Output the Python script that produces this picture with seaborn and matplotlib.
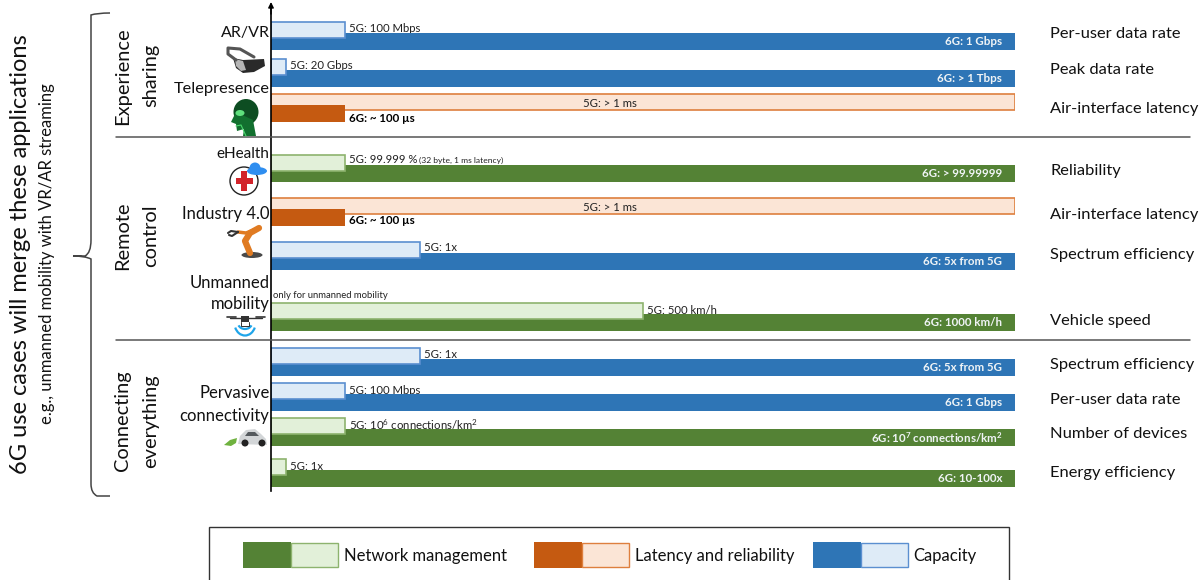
import matplotlib
matplotlib.use("Agg")
import matplotlib.pyplot as plt
import seaborn as sns
from matplotlib.patches import Rectangle, Circle, Ellipse, Polygon, PathPatch, Arc
from matplotlib.path import Path

sns.set_theme(style="white")
plt.rcParams['font.family'] = ['Lato', 'DejaVu Sans']
plt.rcParams['mathtext.fontset'] = 'custom'
plt.rcParams['mathtext.rm'] = 'Lato'
plt.rcParams['mathtext.bf'] = 'Lato:bold'
plt.rcParams['mathtext.default'] = 'regular'

W, H = 1203, 580

#%% data
metrics = ["Per-user data rate", "Peak data rate", "Air-interface latency",
           "Reliability", "Air-interface latency", "Spectrum efficiency",
           "Vehicle speed", "Spectrum efficiency", "Per-user data rate",
           "Number of devices", "Energy efficiency"]
families = ["cap", "cap", "lat", "net", "lat", "cap", "net", "cap", "cap", "net", "net"]
# bar lengths, relative to the longest bar
val_5g = [10, 2, 100, 10, 100, 20, 50, 20, 10, 10, 2]
val_6g = [100, 100, 10, 100, 10, 100, 100, 100, 100, 100, 100]
label_5g = ["5G: 100 Mbps", "5G: 20 Gbps", "5G: > 1 ms", "5G: 99.999 %", "5G: > 1 ms",
            "5G: 1x", "5G: 500 km/h", "5G: 1x", "5G: 100 Mbps",
            "5G: 10$^{6}$ connections/km$^{2}$", "5G: 1x"]
label_6g = ["6G: 1 Gbps", "6G: > 1 Tbps", "6G: ~ 100 µs", "6G: > 99.99999", "6G: ~ 100 µs",
            "6G: 5x from 5G", "6G: 1000 km/h", "6G: 5x from 5G", "6G: 1 Gbps",
            "6G: 10$^{7}$ connections/km$^{2}$", "6G: 10-100x"]
legend_names = ["Network management", "Latency and reliability", "Capacity"]

#%% layout and styles (pixels of the picture)
y_5g = [30, 67, 102, 163, 206, 250, 311, 356, 391, 426, 467]
y_6g = [41.5, 78.5, 113.5, 173.5, 217.5, 261.5, 322.5, 367.5, 402.5, 437.5, 478.5]
y_lab5 = [28.5, 65.5, 103.5, 159.5, 207.5, 247.5, 310.5, 354.5, 390.5, 424.5, 466.5]
y_lab6 = [41.5, 78.5, 119, 174, 221, 262, 323, 368, 403, 437.5, 479]
y_metric = [33.5, 70.5, 108.5, 171.5, 215.5, 254.5, 320.5, 365.5, 399.5, 433.5, 473.5]
dark = {"net": "#548235", "lat": "#C55A11", "cap": "#2E75B6"}
pale = {"net": "#E2F0D9", "lat": "#FBE5D6", "cap": "#DEEBF7"}
edge = {"net": "#8DB36E", "lat": "#DE7F3E", "cap": "#5B8FD0"}

fig = plt.figure(figsize=(W / 100, H / 100), dpi=100, facecolor="white")

#%% bars
ax = fig.add_axes([271 / W, 1 - 491 / H, 744 / W, 486 / H], facecolor="none")
for i in range(len(metrics)):
    fam = families[i]
    def draw_5g():
        sns.barplot(x=[val_5g[i]], y=[y_5g[i]], orient="y", native_scale=True, width=15.5,
                    color=pale[fam], saturation=1, edgecolor=edge[fam], linewidth=1.2,
                    errorbar=None, ax=ax)
    def draw_6g():
        sns.barplot(x=[val_6g[i]], y=[y_6g[i]], orient="y", native_scale=True, width=17,
                    color=dark[fam], saturation=1, linewidth=0, errorbar=None, ax=ax)
    if val_5g[i] > val_6g[i]:
        draw_5g()
        draw_6g()
    else:
        draw_6g()
        draw_5g()

ax.set_xlim(0, 100)
ax.set_ylim(491, 5)
ax.set_xticks([])
ax.set_yticks([])
ax.set_xlabel("")
ax.set_ylabel("")
for s in ["top", "right", "bottom"]:
    ax.spines[s].set_visible(False)
ax.spines["left"].set_color("black")
ax.spines["left"].set_linewidth(1.2)
ax.annotate("", xy=(0, 2), xytext=(0, 14), annotation_clip=False,
            arrowprops=dict(arrowstyle="-|>", color="black", lw=1, mutation_scale=8, shrinkA=0, shrinkB=0))

for i in range(len(metrics)):
    if val_5g[i] == 100:
        # pale bar is the long one, label sits in its middle
        ax.text(45.5, y_lab5[i], label_5g[i], fontsize=8.2, ha="center", va="center", color="#222222")
        ax.text(val_6g[i] + 0.5, y_lab6[i], label_6g[i], fontsize=8.3, fontweight="bold",
                ha="left", va="center", color="black")
    else:
        # the 6G bar runs over the foot of these labels
        ax.text(val_5g[i] + 0.5, y_lab5[i], label_5g[i], fontsize=8.2, ha="left", va="center",
                color="#222222", zorder=0.5)
        ax.text(98.3, y_lab6[i], label_6g[i], fontsize=8.3, fontweight="bold",
                ha="right", va="center", color="#F0F4F6")
ax.text(val_5g[3] + 9.9, y_lab5[3] + 0.5, "(32 byte, 1 ms latency)", fontsize=6.1, ha="left", va="center", color="#222222")
ax.text(0.3, 296, "only for unmanned mobility", fontsize=6.8, ha="left", va="center", color="#222222")

#%% overlay for all the annotation around the bars, in picture pixels
ov = fig.add_axes([0, 0, 1, 1], facecolor="none")
ov.set_xlim(0, W)
ov.set_ylim(H, 0)
ov.axis("off")

for i, m in enumerate(metrics):
    ov.text(1050, y_metric[i], m, fontsize=11.85, ha="left", va="center", color="#111111")

for y in [137, 340]:
    ov.plot([116, 1190], [y, y], color="#555555", lw=1.1)

for txt, y, fs in [("AR/VR", 33.5, 11.5), ("Telepresence", 88.5, 11.8), ("eHealth", 153.5, 11), ("Industry 4.0", 214.5, 12),
                   ("Unmanned", 283.5, 12), ("mobility", 304.5, 12), ("Pervasive", 393.5, 12), ("connectivity", 415.5, 12)]:
    ov.text(269.5, y, txt, fontsize=fs, ha="right", va="center", color="#111111")

for txt, x, y in [("Experience", 123, 76), ("sharing", 151, 75), ("Remote", 123, 236), ("control", 151, 236),
                  ("Connecting", 123, 421), ("everything", 151, 421)]:
    ov.text(x, y, txt, fontsize=14.4, rotation=90, ha="center", va="center", color="#111111")

ov.text(21, 254, "6G use cases will merge these applications", fontsize=17, rotation=90,
        ha="center", va="center", color="#111111")
ov.text(47, 254, "e.g., unmanned mobility with VR/AR streaming", fontsize=12, rotation=90,
        ha="center", va="center", color="#111111")

# brace
brace = Path([(110, 13), (97, 13), (91, 15), (91, 24), (91, 240), (91, 253), (85, 256), (73, 256),
              (85, 256), (91, 259), (91, 272), (91, 484), (91, 493), (97, 496), (110, 496)],
             [Path.MOVETO, Path.CURVE3, Path.CURVE3, Path.LINETO, Path.LINETO, Path.CURVE3, Path.CURVE3, Path.LINETO,
              Path.CURVE3, Path.CURVE3, Path.LINETO, Path.LINETO, Path.CURVE3, Path.CURVE3, Path.LINETO])
ov.add_patch(PathPatch(brace, fc="none", ec="#444444", lw=1.1))

# legend, box runs off the bottom of the picture
ov.add_patch(Rectangle((209, 527), 800, 70, fc="white", ec="#333333", lw=1))
for fam, x0, name, xt in zip(["net", "lat", "cap"], [243, 534, 813], legend_names, [344, 635, 913]):
    ov.add_patch(Rectangle((x0, 542), 48, 25.5, fc=dark[fam], ec="none"))
    ov.add_patch(Rectangle((x0 + 48, 543), 47, 24, fc=pale[fam], ec=edge[fam], lw=1))
    ov.text(xt, 556, name, fontsize=12, ha="left", va="center", color="#111111")

#%% rough icons
# headset: strap then mask
ov.plot([236, 228, 228, 240, 254], [60, 54, 48, 49, 57], color="#555555", lw=2.2, solid_capstyle="round")
ov.add_patch(Polygon([(233, 58), (243, 60), (264, 59), (265, 66), (254, 72), (243, 73), (236, 68)], fc="#2a2a2a", ec="none"))
ov.add_patch(Polygon([(235, 59), (243, 61), (246, 70), (241, 71), (236, 66)], fc="#b5b5b5", ec="none"))
# head, facing left
ov.add_patch(Ellipse((246, 112), 25, 26, fc="#0d4d22", ec="none"))
ov.add_patch(Polygon([(236, 112), (231, 122), (236, 124), (237, 131), (244, 129), (243, 136), (256, 136), (253, 120)], fc="#12702f", ec="none"))
ov.add_patch(Ellipse((240, 113), 9, 6, fc="#5fe07d", ec="none"))
ov.plot([236, 241, 246], [126, 125, 136], color="#49d86c", lw=0.8)
# ehealth
ov.add_patch(Circle((244, 181), 14, fc="white", ec="#222222", lw=1))
ov.add_patch(Rectangle((241, 171), 6, 20, fc="#d2232a", ec="none"))
ov.add_patch(Rectangle((236, 178), 17, 6, fc="#d2232a", ec="none"))
ov.add_patch(Ellipse((257, 171), 20, 8, fc="#2f8ef0", ec="none"))
ov.add_patch(Circle((255, 168), 5.5, fc="#2f8ef0", ec="none"))
# robot arm
ov.plot([250, 245, 250, 259], [253, 241, 233, 228], color="#e07b22", lw=4.5, solid_capstyle="round")
ov.plot([259, 246, 238], [228, 233, 232], color="#e07b22", lw=2.5)
ov.plot([238, 231, 228], [232, 231, 233], color="#333333", lw=1.5)
ov.plot([238, 232, 229], [232, 236, 235], color="#333333", lw=1.5)
ov.add_patch(Ellipse((252, 255), 21, 6, fc="#4a4a4a", ec="none"))
# drone
ov.plot([230, 262], [318, 318], color="#333333", lw=1)
ov.plot([227, 236], [317, 317], color="#333333", lw=1.2)
ov.plot([256, 265], [317, 317], color="#333333", lw=1.2)
ov.add_patch(Rectangle((240.5, 316), 8.5, 6, fc="#333333", ec="none"))
ov.plot([241, 241, 249, 249], [322, 326, 326, 322], color="#333333", lw=0.7)
ov.add_patch(Arc((245, 323), 14, 12, theta1=20, theta2=160, color="#1fa5ea", lw=1.6))
ov.add_patch(Arc((245, 323), 21, 25, theta1=25, theta2=155, color="#1fa5ea", lw=1.6))
# car
ov.add_patch(Polygon([(238, 444), (240, 436), (246, 430), (255, 429), (261, 434), (266, 439), (267, 445)], fc="#d3d6d8", ec="none"))
ov.add_patch(Polygon([(245, 436), (248, 432), (255, 432), (259, 436)], fc="#555a5e", ec="none"))
ov.add_patch(Circle((245, 443), 3.5, fc="#222222", ec="none"))
ov.add_patch(Circle((262, 443), 3.5, fc="#222222", ec="none"))
ov.add_patch(Polygon([(224, 445), (230, 440), (237, 438), (236, 443), (231, 446)], fc="#6fb23f", ec="none"))

fig.savefig("out.png", dpi=100)
